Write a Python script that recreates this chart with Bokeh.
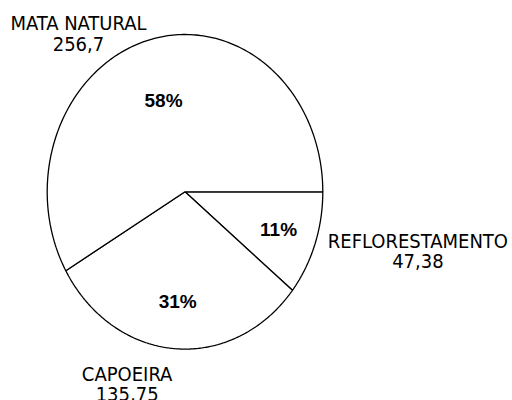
import numpy as np
from bokeh.plotting import figure
from bokeh.models import Range1d
from bokeh.core.properties import value
from bokeh.embed import file_html
from bokeh.resources import INLINE

# data
categories = ["MATA NATURAL", "CAPOEIRA", "REFLORESTAMENTO"]
areas = [256.7, 135.75, 47.38]
area_labels = ["256,7", "135,75", "47,38"]

total = sum(areas)
fracs = [a / total for a in areas]

# Pie drawn clockwise from the east direction: REFLORESTAMENTO, CAPOEIRA, MATA NATURAL
order = [2, 1, 0]

W, H = 512, 400
cx, cy, rx, ry = 184.5, 191.3, 137.8, 157.3
p = figure(width=W, height=H, output_backend="svg", toolbar_location=None,
           x_range=Range1d((0 - cx) / rx, (W - cx) / rx),
           y_range=Range1d((cy - H) / ry, cy / ry),
           min_border=0)
p.axis.visible = False
p.grid.visible = False
p.outline_line_color = None
p.background_fill_color = "white"

xs, ys, mids = [], [], {}
start = 0.0
for i in order:
    span = fracs[i] * 2 * np.pi
    t = np.linspace(start, start + span, 200)
    px = np.concatenate([[0.0], np.cos(-t), [0.0]])
    py = np.concatenate([[0.0], np.sin(-t), [0.0]])
    xs.append(px.tolist())
    ys.append(py.tolist())
    mids[i] = -(start + span / 2)
    start += span

p.patches(xs, ys, fill_color="white", line_color="black", line_width=1.3)

# percentage labels inside slices
pct_r = {0: 0.6, 1: 0.7, 2: 0.72}
px_l, py_l, txt = [], [], []
for i in range(3):
    px_l.append(pct_r[i] * np.cos(mids[i]))
    py_l.append(pct_r[i] * np.sin(mids[i]))
    txt.append(f"{round(fracs[i]*100)}%")
p.text(px_l, py_l, text=txt, text_font=value("Liberation Sans"), text_font_style="bold",
       text_font_size="19px", text_align="center", text_baseline="middle", text_color="black")

# outer labels (name + value)
label_pos = {0: (-0.773, 1.07), 1: (-0.42, -1.16), 2: (1.69, -0.313)}
lx, ly, lt = [], [], []
for i in range(3):
    x, y = label_pos[i]
    lx += [x, x]
    ly += [y, y - 0.128]
    lt += [categories[i], area_labels[i]]
p.text(lx, ly, text=lt, text_font=value("DejaVu Sans Condensed, Liberation Sans"),
       text_font_size="20px",
       text_align="center", text_baseline="middle", text_color="black")

open("out.html", "w").write(file_html(p, INLINE))
